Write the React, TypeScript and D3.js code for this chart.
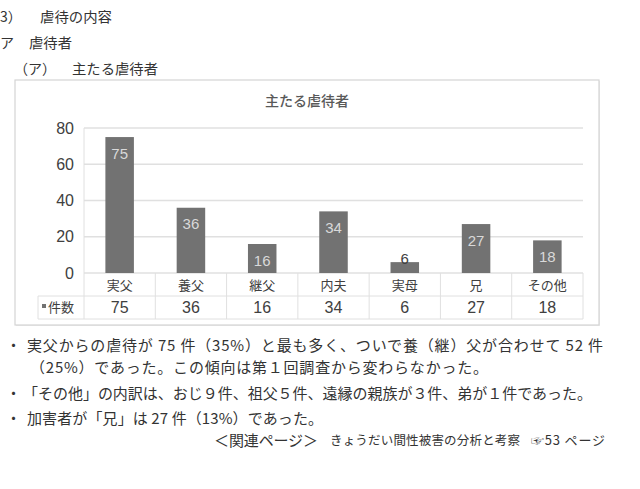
import React from 'react';
import * as d3 from 'd3';

const categories = ['実父', '養父', '継父', '内夫', '実母', '兄', 'その他'];
const counts = [75, 36, 16, 34, 6, 27, 18];
const yTicks = [0, 20, 40, 60, 80];

// page text, x / width in px
const headings = [
  { x: 0, y: 22, text: '3）', len: 0 },
  { x: 40, y: 22, text: '虐待の内容', len: 72 },
  { x: 0, y: 48, text: 'ア', len: 0 },
  { x: 29, y: 48, text: '虐待者', len: 43 },
  { x: 14, y: 74, text: '（ア）', len: 0 },
  { x: 72, y: 74, text: '主たる虐待者', len: 86 },
];

const notes = [
  { x: 27, y: 351, text: '実父からの虐待が 75 件（35%）と最も多く、ついで養（継）父が合わせて 52 件', len: 576, bullet: true },
  { x: 30, y: 373, text: '（25%）であった。この傾向は第１回調査から変わらなかった。', len: 458, bullet: false },
  { x: 23, y: 399, text: '「その他」の内訳は、おじ９件、祖父５件、遠縁の親族が３件、弟が１件であった。', len: 569, bullet: true },
  { x: 27, y: 424, text: '加害者が「兄」は 27 件（13%）であった。', len: 296, bullet: true },
];

const JP = '"Noto Sans CJK JP", "Noto Sans", sans-serif';
const NUM = '"Liberation Sans", Arial, sans-serif';

const App: React.FC = () => {
  const width = 640;
  const height = 489;

  const box = { x: 15, y: 80, w: 584, h: 245 };
  const plot = { left: 84, right: 583, top: 128, bottom: 273 };
  const rowH = 23;
  const tableLeft = 38;

  const x = d3.scaleBand<string>()
    .domain(categories)
    .range([plot.left, plot.right])
    .paddingInner(0.6)
    .paddingOuter(0.3);
  const colW = (plot.right - plot.left) / categories.length;

  const y = d3.scaleLinear().domain([0, 80]).range([plot.bottom, plot.top]);

  return (
    <svg width={width} height={height}
      style={{ position: 'absolute', left: 0, top: 0, background: '#fff' }}>
      {/* page headings */}
      {headings.map((h, i) => (
        <text key={i} x={h.x} y={h.y} fontFamily={JP} fontSize={14} fill="#333"
          {...(h.len ? { textLength: h.len, lengthAdjust: 'spacingAndGlyphs' } : {})}>{h.text}</text>
      ))}

      {/* chart frame */}
      <rect x={box.x + 1} y={box.y + 1} width={box.w} height={box.h} fill="#ececec" />
      <rect x={box.x} y={box.y} width={box.w} height={box.h} fill="#fff" stroke="#d4d4d4" strokeWidth={1.2} />
      <text x={box.x + box.w / 2} y={106} textAnchor="middle" fontFamily={JP} fontSize={14}
        fontWeight={500} fill="#595959">主たる虐待者</text>

      {/* gridlines */}
      {yTicks.map(t => (
        <g key={t}>
          <line x1={plot.left} x2={plot.right} y1={y(t)} y2={y(t)} stroke="#e0e0e0" strokeWidth={1.5} />
          <text x={74} y={y(t) + 5.5} textAnchor="end" fontFamily={NUM} fontSize={16} fill="#404040">{t}</text>
        </g>
      ))}
      <line x1={plot.left} x2={plot.left} y1={plot.top} y2={plot.bottom} stroke="#e0e0e0" />

      {/* bars */}
      {categories.map((c, i) => {
        const v = counts[i];
        const bx = x(c)!;
        const bw = x.bandwidth();
        const top = y(v);
        const small = plot.bottom - top < 24;
        return (
          <g key={c}>
            <rect x={bx} y={top} width={bw} height={plot.bottom - top} fill="#727272" />
            <text x={bx + bw / 2} y={small ? top + 2 : top + 21.5} textAnchor="middle"
              fontFamily={NUM} fontSize={15} fill={small ? '#404040' : '#d9d9d9'}>{v}</text>
          </g>
        );
      })}

      {/* data table */}
      <g stroke="#e0e0e0" strokeWidth={1}>
        <line x1={plot.left} x2={plot.right} y1={plot.bottom + rowH} y2={plot.bottom + rowH} />
        <line x1={tableLeft} x2={plot.left} y1={plot.bottom + rowH} y2={plot.bottom + rowH} />
        <line x1={tableLeft} x2={plot.right} y1={plot.bottom + 2 * rowH} y2={plot.bottom + 2 * rowH} />
        <line x1={tableLeft} x2={tableLeft} y1={plot.bottom + rowH} y2={plot.bottom + 2 * rowH} />
        {d3.range(categories.length + 1).map(k => (
          <line key={k} x1={plot.left + k * colW} x2={plot.left + k * colW}
            y1={plot.bottom} y2={plot.bottom + 2 * rowH} />
        ))}
      </g>
      {categories.map((c, i) => (
        <g key={c}>
          <text x={plot.left + (i + 0.5) * colW} y={plot.bottom + 17} textAnchor="middle"
            fontFamily={JP} fontSize={13} fill="#404040">{c}</text>
          <text x={plot.left + (i + 0.5) * colW} y={plot.bottom + rowH + 17} textAnchor="middle"
            fontFamily={NUM} fontSize={16} fill="#404040">{counts[i]}</text>
        </g>
      ))}
      <rect x={42} y={plot.bottom + rowH + 8} width={4} height={4} fill="#727272" />
      <text x={48} y={plot.bottom + rowH + 16} fontFamily={JP} fontSize={13} fill="#404040">件数</text>

      {/* notes */}
      {notes.map((n, i) => (
        <g key={i}>
          {n.bullet && <text x={6} y={n.y} fontFamily={JP} fontSize={15} fill="#333">・</text>}
          <text x={n.x} y={n.y} fontFamily={JP} fontSize={15} fill="#333"
            textLength={n.len} lengthAdjust="spacing">{n.text}</text>
        </g>
      ))}
      <text x={214} y={446} fontFamily={JP} fontSize={15} fill="#333"
        textLength={104} lengthAdjust="spacing">＜関連ページ＞</text>
      <text x={330} y={445} fontFamily={JP} fontSize={12.5} fill="#333"
        textLength={190} lengthAdjust="spacing">きょうだい間性被害の分析と考察</text>
      <text x={531} y={445} fontFamily={JP} fontSize={13} fill="#333"
        textLength={74} lengthAdjust="spacing">☞53 ページ</text>
    </svg>
  );
};

export default App;
